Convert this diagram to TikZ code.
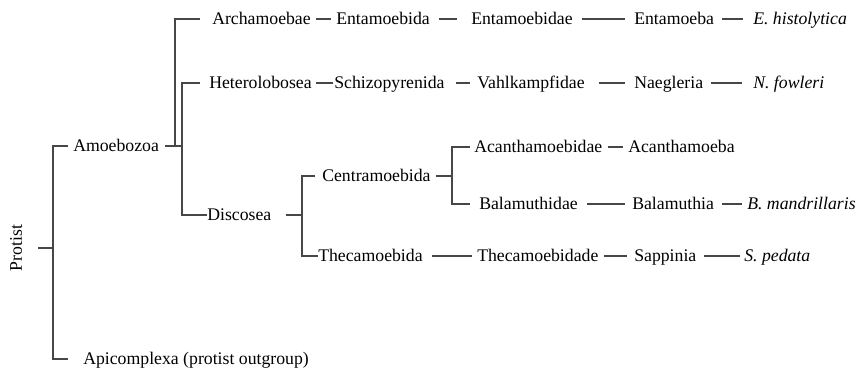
\documentclass[tikz,border=0pt]{standalone}
\usepackage{fontspec}
\setmainfont{Liberation Serif}
\begin{document}
\begin{tikzpicture}[x=0.75pt,y=-0.75pt,
  txt/.style={anchor=west, inner sep=0pt, text height=8.7pt, text depth=0pt, font=\fontsize{13.3}{15}\selectfont},
  ln/.style={draw=black!72, line width=0.85pt}]
\useasboundingbox (0,0) rectangle (863,368);
\newcommand\cn[4]{\draw[ln] ([xshift=#3*0.75pt]#1.east) -- ([xshift=-#4*0.75pt]#2.west);}
% nodes
\node[txt, anchor=center, rotate=90] (prot) at (16,248) {Protist};
\node[txt] (amo) at (73,146) {Amoebozoa};
\node[txt] (api) at (83,359) {Apicomplexa (protist outgroup)};
\node[txt] (arch) at (212,19) {Archamoebae};
\node[txt] (ent1) at (336,19) {Entamoebida};
\node[txt] (ent2) at (471,19) {Entamoebidae};
\node[txt] (ent3) at (634,19) {Entamoeba};
\node[txt] (ehis) at (753,19) {\itshape E. histolytica};
\node[txt] (het) at (209,83) {Heterolobosea};
\node[txt] (sch) at (334,83) {Schizopyrenida};
\node[txt] (vah) at (477,83) {Vahlkampfidae};
\node[txt] (nae) at (634,83) {Naegleria};
\node[txt] (nfo) at (753,83) {\itshape N. fowleri};
\node[txt] (dis) at (207,215) {Discosea};
\node[txt] (cen) at (322,176) {Centramoebida};
\node[txt] (aca) at (474,147) {Acanthamoebidae};
\node[txt] (acm) at (628,147) {Acanthamoeba};
\node[txt] (bal) at (479,204) {Balamuthidae};
\node[txt] (balm) at (632,204) {Balamuthia};
\node[txt] (bman) at (747,204) {\itshape B. mandrillaris};
\node[txt] (the) at (318,256) {Thecamoebida};
\node[txt] (thd) at (477,256) {Thecamoebidade};
\node[txt] (sap) at (634,256) {Sappinia};
\node[txt] (sped) at (744,256) {\itshape S. pedata};
% junctions
\coordinate (jP) at (53,248);
\coordinate (jA1) at (175,146);
\coordinate (jA2) at (182,146);
\coordinate (jD) at (302,215);
\coordinate (jC) at (452,176);
% tree
\draw[ln] ([xshift=16*0.75pt]prot.south) -- (jP);
\draw[ln] ([xshift=-5*0.75pt]amo.west) -| (jP) |- ([xshift=-15*0.75pt]api.west);
\draw[ln] ([xshift=6*0.75pt]amo.east) -- (jA2);
\draw[ln] ([xshift=-12*0.75pt]arch.west) -| (jA1);
\draw[ln] ([xshift=-9*0.75pt]het.west) -| (jA2) |- (dis.west);
\draw[ln] ([xshift=14*0.75pt]dis.east) -- (jD);
\draw[ln] ([xshift=-7*0.75pt]cen.west) -| (jD) |- (the.west);
\draw[ln] ([xshift=5*0.75pt]cen.east) -- (jC);
\draw[ln] ([xshift=-4*0.75pt]aca.west) -| (jC) |- ([xshift=-9*0.75pt]bal.west);
% chains
\cn{arch}{ent1}{5}{5}
\cn{ent1}{ent2}{9}{14}
\cn{ent2}{ent3}{9}{9}
\cn{ent3}{ehis}{8}{10}
\cn{het}{sch}{4}{1}
\cn{sch}{vah}{11}{7}
\cn{vah}{nae}{14}{9}
\cn{nae}{nfo}{8}{11}
\cn{aca}{acm}{5}{5}
\cn{bal}{balm}{9}{7}
\cn{balm}{bman}{8}{5}
\cn{the}{thd}{9}{5}
\cn{thd}{sap}{5}{7}
\cn{sap}{sped}{7}{4}
\end{tikzpicture}
\end{document}
